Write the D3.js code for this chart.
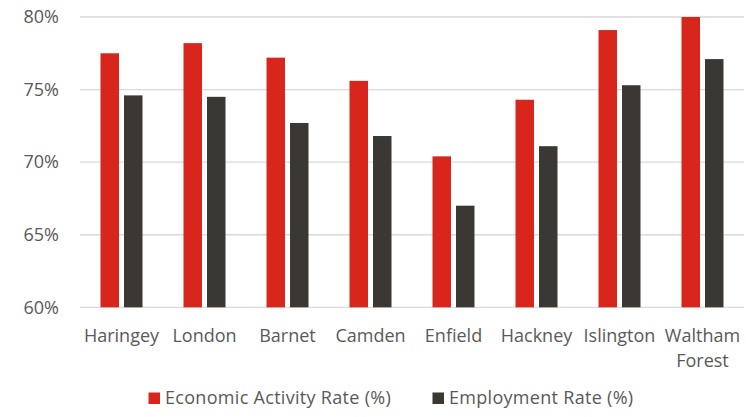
<!DOCTYPE html>
<html><head><meta charset="utf-8">
<script src="https://cdn.jsdelivr.net/npm/d3@7"></script>
<style>body{margin:0;background:#fff}svg{display:block}</style>
</head><body>
<svg id="c" width="748" height="417"></svg>
<script>
const categories = ["Haringey","London","Barnet","Camden","Enfield","Hackney","Islington","Waltham Forest"];
const seriesNames = ["Economic Activity Rate (%)","Employment Rate (%)"];
const economicActivity = [77.5,78.2,77.2,75.6,70.4,74.3,79.1,80.0];
const employment = [74.6,74.5,72.7,71.8,67.0,71.1,75.3,77.1];
const yTicks = [60,65,70,75,80];
const colors = ["#D9261C","#3B3833"];

(function(){
const svg = d3.select("#c");
const font = "'Open Sans', Lato, sans-serif";
const fs = 18;
const mLeft = 80, mRight = 744, mTop = 17, mBottom = 307.3;
const x0 = d3.scaleBand().domain(categories).range([mLeft,mRight]).padding(0);
const x1 = d3.scaleBand().domain(seriesNames).range([20.5, x0.bandwidth()-20.5]).paddingInner(0.213);
const y = d3.scaleLinear().domain([60,80]).range([mBottom, mTop]);

svg.append("g").selectAll("line").data(yTicks).join("line")
  .attr("x1",mLeft).attr("x2",mRight).attr("y1",d=>y(d)).attr("y2",d=>y(d))
  .attr("stroke","#d9d9d9").attr("stroke-width",1.3);

const yAxis = d3.axisLeft(y).tickValues(yTicks).tickFormat(d=>d+"%").tickSize(0).tickPadding(0);
const ya = svg.append("g").attr("transform","translate(59,0)").call(yAxis);
ya.select(".domain").remove();
ya.selectAll("text").attr("font-family",font).attr("font-size",fs).attr("fill","#595959");

const series = [economicActivity, employment];
const g = svg.append("g");
categories.forEach((c,i)=>{
  seriesNames.forEach((s,j)=>{
    g.append("rect")
      .attr("x", x0(c)+x1(s)).attr("width", x1.bandwidth())
      .attr("y", y(series[j][i])).attr("height", y(60)-y(series[j][i]))
      .attr("fill", colors[j]);
  });
});

const xl = svg.append("g");
categories.forEach(c=>{
  const words = c === "Waltham Forest" ? ["Waltham","Forest"] : [c];
  const t = xl.append("text").attr("x", x0(c)+x0.bandwidth()/2).attr("y", 341.5)
    .attr("text-anchor","middle").attr("font-family",font).attr("font-size",fs).attr("fill","#595959");
  words.forEach((w,k)=>t.append("tspan").attr("x", x0(c)+x0.bandwidth()/2).attr("dy", k?25.5:0).text(w));
});

const leg = svg.append("g");
const legX = [148.5, 432.5];
seriesNames.forEach((s,j)=>{
  leg.append("rect").attr("x",legX[j]).attr("y",392.5).attr("width",11.5).attr("height",11.5).attr("fill",colors[j]);
  leg.append("text").attr("x",legX[j]+16.5).attr("y",403.5).attr("font-family",font).attr("font-size",fs)
    .attr("letter-spacing",0.3).attr("fill","#595959").text(s);
});
})();
</script>
</body></html>
